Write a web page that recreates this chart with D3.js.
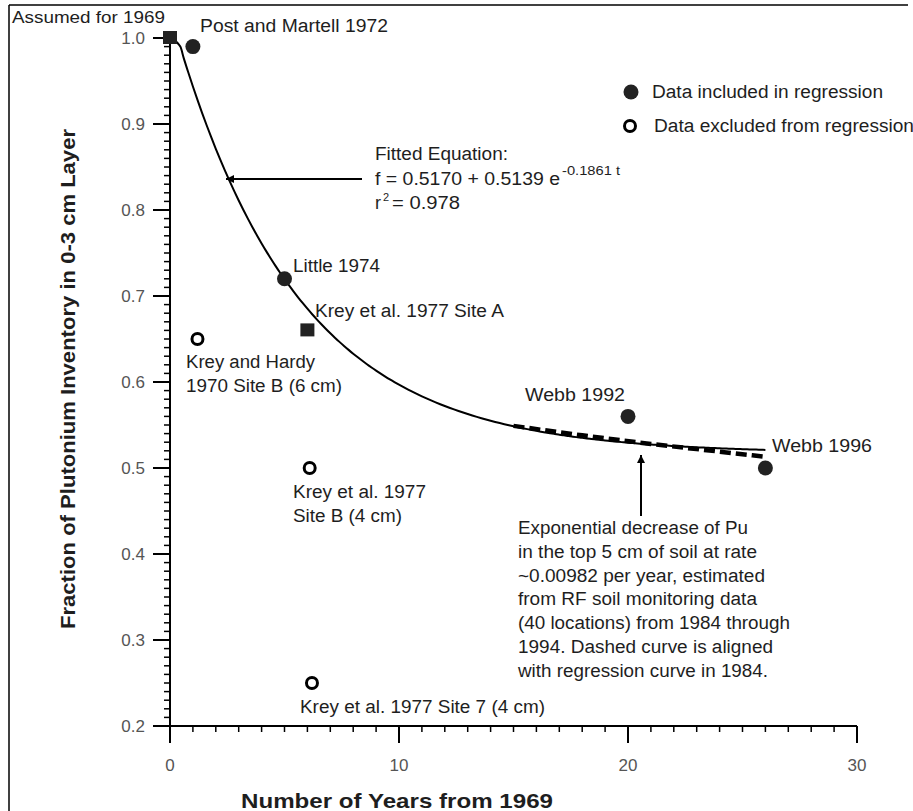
<!DOCTYPE html>
<html><head><meta charset="utf-8">
<script src="https://cdn.jsdelivr.net/npm/d3@7/dist/d3.min.js"></script>
<style>
body{margin:0;background:#fff;}
svg text{font-family:"Liberation Sans",Arial,sans-serif;fill:#1e1e1e;}
</style></head>
<body><svg id="c" width="913" height="811"></svg>
<script>
// ---- data ----
const includedLabels = ["Post and Martell 1972","Little 1974","Webb 1992","Webb 1996"];
const includedT = [1.0, 5.0, 20.0, 26.0];
const includedF = [0.99, 0.72, 0.56, 0.50];
const squareLabels = ["Assumed for 1969","Krey et al. 1977 Site A"];
const squareT = [0, 6.0];
const squareF = [1.0, 0.66];
const excludedLabels = ["Krey and Hardy 1970 Site B (6 cm)","Krey et al. 1977 Site B (4 cm)","Krey et al. 1977 Site 7 (4 cm)"];
const excludedT = [1.2, 6.1, 6.2];
const excludedF = [0.65, 0.50, 0.25];
// fitted regression: f = a + b*exp(-k t)
const fitA = 0.5170, fitB = 0.5139, fitK = 0.1861;
const fitStartT = [0, 0.45];
const fitStartF = [1.0, 0.99];
const fitEndT = 26;
// dashed curve, aligned with regression in 1984 (t = 15)
const dashT = [15, 18, 21, 24, 26];
const dashF = [0.549, 0.538, 0.528, 0.519, 0.513];
const xTicks = [0, 10, 20, 30];
const yTicks = [0.2, 0.3, 0.4, 0.5, 0.6, 0.7, 0.8, 0.9, 1.0];
const yTickLabels = ["0.2","0.3","0.4","0.5","0.6","0.7","0.8","0.9","1.0"];

const svg = d3.select("#c");
const x = d3.scaleLinear().domain([0, 30]).range([170, 857]);
const y = d3.scaleLinear().domain([0.2, 1.0]).range([726, 38]);

// frame
svg.append("line").attr("x1",9).attr("y1",5).attr("x2",908).attr("y2",5).attr("stroke","#000").attr("stroke-width",1.5);
svg.append("line").attr("x1",9).attr("y1",5).attr("x2",9).attr("y2",811).attr("stroke","#000").attr("stroke-width",1.5);

// axes
const yMinor = d3.range(20, 101).map(v => v/100);
const xMinor = d3.range(0, 31);
const ax = svg.append("g");
ax.append("line").attr("x1",x(0)).attr("x2",x(0)).attr("y1",y(1.0)).attr("y2",y(0.2)).attr("stroke","#000").attr("stroke-width",2);
ax.append("line").attr("x1",x(0)).attr("x2",x(30)).attr("y1",y(0.2)).attr("y2",y(0.2)).attr("stroke","#000").attr("stroke-width",2);
ax.selectAll(".ym").data(yMinor).join("line").attr("x1",x(0)-6).attr("x2",x(0)).attr("y1",d=>y(d)).attr("y2",d=>y(d)).attr("stroke","#000").attr("stroke-width",1.5);
ax.selectAll(".yM").data(yTicks).join("line").attr("x1",x(0)-17).attr("x2",x(0)).attr("y1",d=>y(d)).attr("y2",d=>y(d)).attr("stroke","#000").attr("stroke-width",2);
ax.selectAll(".xm").data(xMinor).join("line").attr("x1",d=>x(d)).attr("x2",d=>x(d)).attr("y1",y(0.2)).attr("y2",y(0.2)+6).attr("stroke","#000").attr("stroke-width",1.5);
ax.selectAll(".xM").data(xTicks).join("line").attr("x1",d=>x(d)).attr("x2",d=>x(d)).attr("y1",y(0.2)).attr("y2",y(0.2)+17).attr("stroke","#000").attr("stroke-width",2);
ax.selectAll(".yl").data(yTicks).join("text").attr("x",145).attr("y",d=>y(d)+6).attr("text-anchor","end")
  .attr("font-size",17).style("fill","#555").text((d,i)=>yTickLabels[i]);
ax.selectAll(".xl").data(xTicks).join("text").attr("x",d=>x(d)).attr("y",771).attr("text-anchor","middle")
  .attr("font-size",17).style("fill","#555").text(d=>d);

svg.append("text").attr("x",397).attr("y",808).attr("text-anchor","middle").attr("font-size",21).attr("font-weight","bold")
  .attr("textLength",312).attr("lengthAdjust","spacingAndGlyphs").text("Number of Years from 1969");
svg.append("text").attr("transform","translate(75,379) rotate(-90)").attr("text-anchor","middle").attr("font-size",21).attr("font-weight","bold")
  .attr("textLength",500).attr("lengthAdjust","spacingAndGlyphs").text("Fraction of Plutonium Inventory in 0-3 cm Layer");

// regression curve
const fitT = fitStartT.concat(d3.range(0.6, fitEndT + 0.001, 0.2));
const fitPts = fitT.map((t,i) => [t, i < fitStartT.length ? fitStartF[i] : fitA + fitB*Math.exp(-fitK*t)]);
const line = d3.line().x(d=>x(d[0])).y(d=>y(d[1])).curve(d3.curveMonotoneX);
svg.append("path").attr("d",line(fitPts)).attr("fill","none").attr("stroke","#000").attr("stroke-width",2);
svg.append("path").attr("d",line(dashT.map((t,i)=>[t,dashF[i]]))).attr("fill","none").attr("stroke","#000")
  .attr("stroke-width",4.5).attr("stroke-dasharray","11,5");

// markers
svg.selectAll(".inc").data(includedT).join("circle").attr("cx",d=>x(d)).attr("cy",(d,i)=>y(includedF[i])).attr("r",7.5).attr("fill","#222");
svg.selectAll(".sq").data(squareT).join("rect").attr("x",d=>x(d)-7).attr("y",(d,i)=>y(squareF[i])-7).attr("width",14).attr("height",13).attr("fill","#222");
svg.selectAll(".exc").data(excludedT).join("circle").attr("cx",d=>x(d)).attr("cy",(d,i)=>y(excludedF[i])).attr("r",5.5).attr("fill","#fff").attr("stroke","#000").attr("stroke-width",3);

// labels
const fs = 18;
function txt(s, xx, yy, len, size){
  const t = svg.append("text").attr("x",xx).attr("y",yy).attr("font-size",size||fs).text(s);
  if (len) t.attr("textLength",len).attr("lengthAdjust","spacingAndGlyphs");
  return t;
}
txt("Assumed for 1969", 12, 23, 153, 17);
txt("Post and Martell 1972", 200, 32, 188);
txt("Little 1974", 293, 272, 87);
txt("Krey et al. 1977 Site A", 315, 317, 189);
txt("Krey and Hardy", 186, 368, 129);
txt("1970 Site B (6 cm)", 186, 392, 156);
txt("Krey et al. 1977", 293, 498, 133);
txt("Site B (4 cm)", 293, 522, 109);
txt("Webb 1992", 525, 401, 100);
txt("Webb 1996", 772, 452, 100);
txt("Krey et al. 1977 Site 7 (4 cm)", 300, 713, 245);

// legend
svg.append("circle").attr("cx",631).attr("cy",92).attr("r",7.5).attr("fill","#222");
txt("Data included in regression", 652, 98, 231);
svg.append("circle").attr("cx",630).attr("cy",126).attr("r",5.5).attr("fill","#fff").attr("stroke","#000").attr("stroke-width",3);
txt("Data excluded from regression", 654, 132, 260);

// equation
txt("Fitted Equation:", 375, 160, 133);
txt("f = 0.5170 + 0.5139 e", 375, 185, 185);
txt("-0.1861 t", 562, 175, 58, 12);
txt("r", 375, 209);
txt("2", 383, 201, null, 11);
txt("= 0.978", 392, 209, 68);

// arrows
const defs = svg.append("defs");
defs.append("marker").attr("id","ah").attr("viewBox","0 0 10 10").attr("refX",10).attr("refY",5)
  .attr("markerWidth",9).attr("markerHeight",8).attr("markerUnits","userSpaceOnUse").attr("orient","auto")
  .append("path").attr("d","M0,0 L10,5 L0,10 z").attr("fill","#000");
svg.append("line").attr("x1",362).attr("y1",179).attr("x2",226).attr("y2",179).attr("stroke","#000").attr("stroke-width",2).attr("marker-end","url(#ah)");
svg.append("line").attr("x1",641).attr("y1",516).attr("x2",641).attr("y2",455).attr("stroke","#000").attr("stroke-width",2).attr("marker-end","url(#ah)");

// paragraph
const para = ["Exponential decrease of Pu","in the top 5 cm of soil at rate","~0.00982 per year, estimated","from RF soil monitoring data","(40 locations) from 1984 through","1994. Dashed curve is aligned","with regression curve in 1984."];
const paraLen = [230, 239, 247, 239, 272, 255, 250];
svg.selectAll(".para").data(para).join("text").attr("x",518).attr("y",(d,i)=>534+i*23.8).attr("font-size",fs)
  .attr("textLength",(d,i)=>paraLen[i]).attr("lengthAdjust","spacingAndGlyphs").text(d=>d);
</script></body></html>
